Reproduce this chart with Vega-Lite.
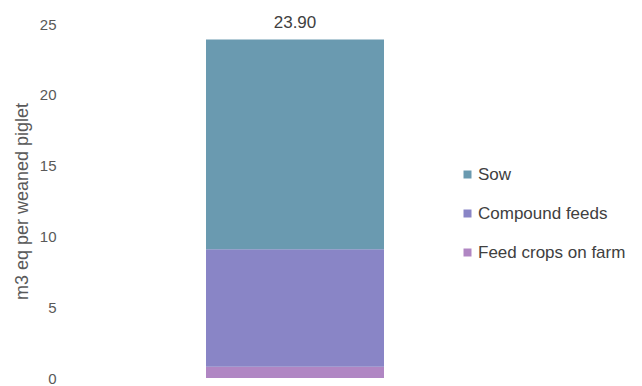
{
  "$schema": "https://vega.github.io/schema/vega-lite/v6.json",
  "autosize": {"type": "none"},
  "padding": {"left": 62, "top": 24, "right": 114, "bottom": 8},
  "width": 466,
  "height": 354,
  "background": "white",
  "config": {
    "view": {"stroke": null},
    "font": "Liberation Sans"
  },
  "data": {
    "values": [
      {"component": "Feed crops on farm", "value": 0.8},
      {"component": "Compound feeds", "value": 8.3},
      {"component": "Sow", "value": 14.8}
    ]
  },
  "encoding": {
    "x": {"datum": "Piglet", "type": "nominal", "axis": null},
    "y": {
      "aggregate": "sum",
      "field": "value",
      "type": "quantitative",
      "scale": {"domain": [0, 25]},
      "axis": {
        "title": "m3 eq per weaned piglet",
        "values": [0, 5, 10, 15, 20, 25],
        "grid": false,
        "domain": false,
        "ticks": false,
        "labelPadding": 6,
        "labelFontSize": 15,
        "labelColor": "#595959",
        "titleFontSize": 18,
        "titleFontWeight": "normal",
        "titleColor": "#595959",
        "titlePadding": 8
      }
    }
  },
  "layer": [
    {
      "mark": {"type": "bar", "width": 178},
      "encoding": {
        "y": {"field": "value", "type": "quantitative", "stack": "zero"},
        "order": {"field": "value", "type": "quantitative", "sort": "ascending"},
        "color": {
          "field": "component",
          "type": "nominal",
          "scale": {
            "domain": ["Sow", "Compound feeds", "Feed crops on farm"],
            "range": ["#6a9ab0", "#8985c6", "#b086c3"]
          },
          "legend": {
            "title": null,
            "orient": "none",
            "legendX": 397,
            "legendY": 142,
            "padding": 0,
            "symbolType": "square",
            "symbolSize": 64,
            "symbolStrokeWidth": 0,
            "labelFontSize": 17,
            "labelColor": "#404040",
            "labelOffset": 2,
            "rowPadding": 21
          }
        }
      }
    },
    {
      "mark": {"type": "text", "baseline": "alphabetic", "dy": -12, "fontSize": 17, "color": "#404040"},
      "encoding": {
        "text": {"aggregate": "sum", "field": "value", "type": "quantitative", "format": ".2f"}
      }
    }
  ]
}
